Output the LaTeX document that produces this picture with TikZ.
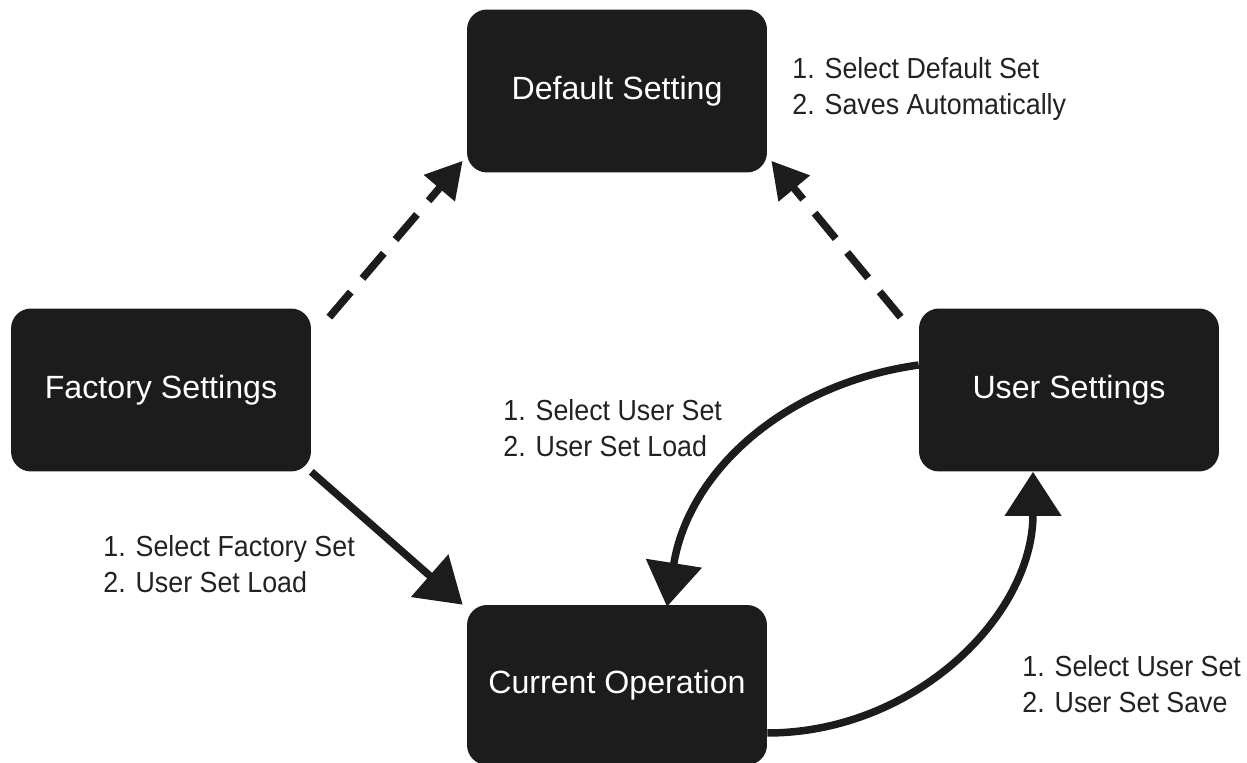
\documentclass[tikz,border=0pt]{standalone}
\usepackage{fontspec}
\setmainfont{Liberation Sans}
\newfontfamily\narrowfont[FakeStretch=0.925]{Liberation Sans}
\usetikzlibrary{arrows.meta}
\definecolor{boxgray}{HTML}{1C1C1C}
\definecolor{notegray}{HTML}{222222}

\begin{document}
\begin{tikzpicture} [x=0.02cm, y=0.02cm,
	box/.style={fill=boxgray, rounded corners=0.4cm, minimum width=6cm, minimum height=3.26cm, inner sep=0, text=white, font=\fontsize{18.3}{22}\selectfont},
	note/.style={anchor=west, inner sep=0, align=left, text=notegray, font=\narrowfont\fontsize{16.5}{20.4}\selectfont},
	link/.style={line width=0.15cm, draw=boxgray, -{Triangle[length=0.88cm, width=1.1cm]}},
	dashlink/.style={link, dash pattern=on 0.66cm off 0.36cm, -{Triangle[length=0.72cm, width=0.78cm]}}]
	\useasboundingbox (0,0) rectangle (1247,763);
	\node[box] (def) at (617,672) {Default Setting};
	\node[box] (fac) at (161,373) {Factory Settings};
	\node[box] (user) at (1069,373) {User Settings};
	\node[box, minimum height=3.2cm] (cur) at (617,78) {Current Operation};
	\node[note] (defnote) at (792,674) {1. Select Default Set\\2. Saves Automatically};
	\node[note] (loadnote) at (503,335) {1. Select User Set\\2. User Set Load};
	\node[note] (facnote) at (103,199) {1. Select Factory Set\\2. User Set Load};
	\node[note] (savenote) at (1022,79) {1. Select User Set\\2. User Set Save};
	\draw[dashlink] ([shift={(0.36cm,-0.18cm)}]fac.north east) -- ([shift={(-0.08cm,0.24cm)}]def.south west);
	\draw[dashlink] ([shift={(-0.36cm,-0.18cm)}]user.north west) -- ([shift={(0.08cm,0.24cm)}]def.south east);
	\draw[link] (fac.south east) -- ([xshift=-0.08cm]cur.north west);
	\draw[link] ([yshift=0.5cm]user.west) to[out=188, in=81] ([shift={(1cm,-0.04cm)}]cur.north);
	\draw[link] ([yshift=-0.96cm]cur.east) to[out=0, in=-90] ([xshift=-0.72cm]user.south);
\end{tikzpicture}
\end{document}
